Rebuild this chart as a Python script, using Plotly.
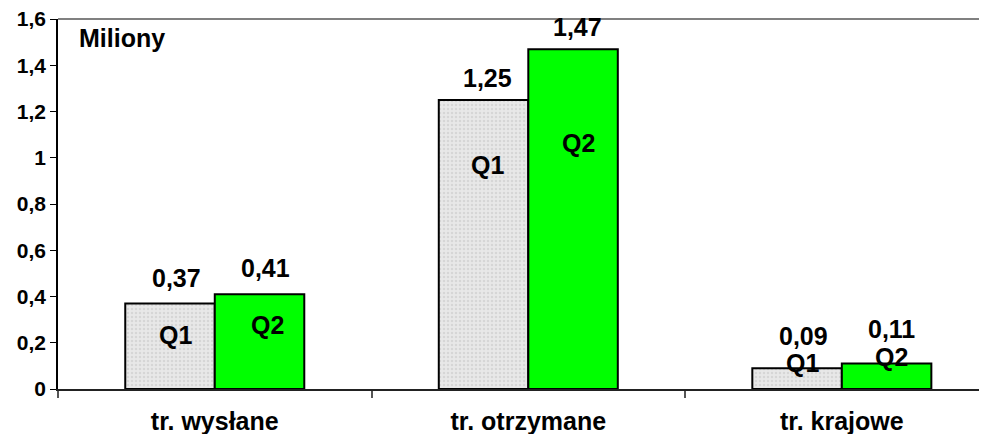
import plotly.graph_objects as go

categories = ["tr. wysłane", "tr. otrzymane", "tr. krajowe"]
q1_values = [0.37, 1.25, 0.09]
q2_values = [0.41, 1.47, 0.11]
q1_labels = ["0,37", "1,25", "0,09"]
q2_labels = ["0,41", "1,47", "0,11"]
series_names = ["Q1", "Q2"]
y_tickvals = [0, 0.2, 0.4, 0.6, 0.8, 1.0, 1.2, 1.4, 1.6]
y_ticktext = ["0", "0,2", "0,4", "0,6", "0,8", "1", "1,2", "1,4", "1,6"]
unit_text = "Miliony"

# label placement (pixel offsets relative to each bar's centre / top)
val_xshift = [[6.5, 4, 6], [5.5, 4, 5]]
val_yshift = [[25, 22, 32], [26, 22, 35]]
name_xshift = [[5.5, 4, 5], [7.5, 5, 5]]
name_yshift = [[-32, -65, 5], [-31, -94, 7]]

FONT = "Liberation Sans, Arial, sans-serif"
BIG = 25
BARGAP = 0.429
half = (1 - BARGAP) / 4.0

fig = go.Figure()
fig.add_trace(go.Bar(
    x=categories, y=q1_values, name=series_names[0],
    marker=dict(color="#e6e6e6", line=dict(color="black", width=2),
                pattern=dict(shape=".", fgcolor="#c4c4c4", bgcolor="#e8e8e8",
                             size=4, solidity=0.3)),
    hoverinfo="skip",
))
fig.add_trace(go.Bar(
    x=categories, y=q2_values, name=series_names[1],
    marker=dict(color="#00ff00", line=dict(color="black", width=2)),
    hoverinfo="skip",
))

annotations = []
for s, (vals, labs) in enumerate([(q1_values, q1_labels), (q2_values, q2_labels)]):
    off = -half if s == 0 else half
    for i, v in enumerate(vals):
        annotations.append(dict(
            x=i + off, y=v, xref="x", yref="y", text=labs[i], showarrow=False,
            xanchor="center", yanchor="middle",
            xshift=val_xshift[s][i], yshift=val_yshift[s][i],
            font=dict(family=FONT, size=BIG, color="black", weight="bold"),
        ))
        annotations.append(dict(
            x=i + off, y=v, xref="x", yref="y", text=series_names[s], showarrow=False,
            xanchor="center", yanchor="middle",
            xshift=name_xshift[s][i], yshift=name_yshift[s][i],
            font=dict(family=FONT, size=BIG, color="black", weight="bold"),
        ))

annotations.append(dict(
    x=0.0205, y=0.9486, xref="paper", yref="paper", text=unit_text, showarrow=False,
    xanchor="left", yanchor="middle",
    font=dict(family=FONT, size=BIG, color="black", weight="bold"),
))

fig.update_layout(
    width=979, height=426,
    margin=dict(l=50, r=0, t=11, b=45, pad=0),
    paper_bgcolor="white", plot_bgcolor="white",
    barmode="group", bargap=BARGAP, bargroupgap=0,
    showlegend=False,
    annotations=annotations,
    shapes=[dict(type="line", xref="paper", yref="paper", x0=0, x1=1, y0=1, y1=1,
                 line=dict(color="#808080", width=2), layer="below")],
)
fig.update_xaxes(
    type="category", range=[-0.5, 2.463],
    showline=True, linecolor="#222222", linewidth=2,
    ticks="outside", tickson="boundaries", ticklen=7, tickcolor="#555555", tickwidth=2,
    ticklabelstandoff=9,
    tickfont=dict(family=FONT, size=BIG, color="black", weight="bold"),
    showgrid=False, zeroline=False, automargin=False,
)
fig.update_yaxes(
    range=[0, 1.6005], tickvals=y_tickvals, ticktext=y_ticktext,
    showline=True, linecolor="black", linewidth=1.5,
    ticks="outside", ticklen=6, tickcolor="black", tickwidth=1,
    ticklabeloverflow="allow",
    tickfont=dict(family=FONT, size=21, color="black", weight="bold"),
    showgrid=False, zeroline=False, automargin=False,
)

fig.write_html("out.html")
